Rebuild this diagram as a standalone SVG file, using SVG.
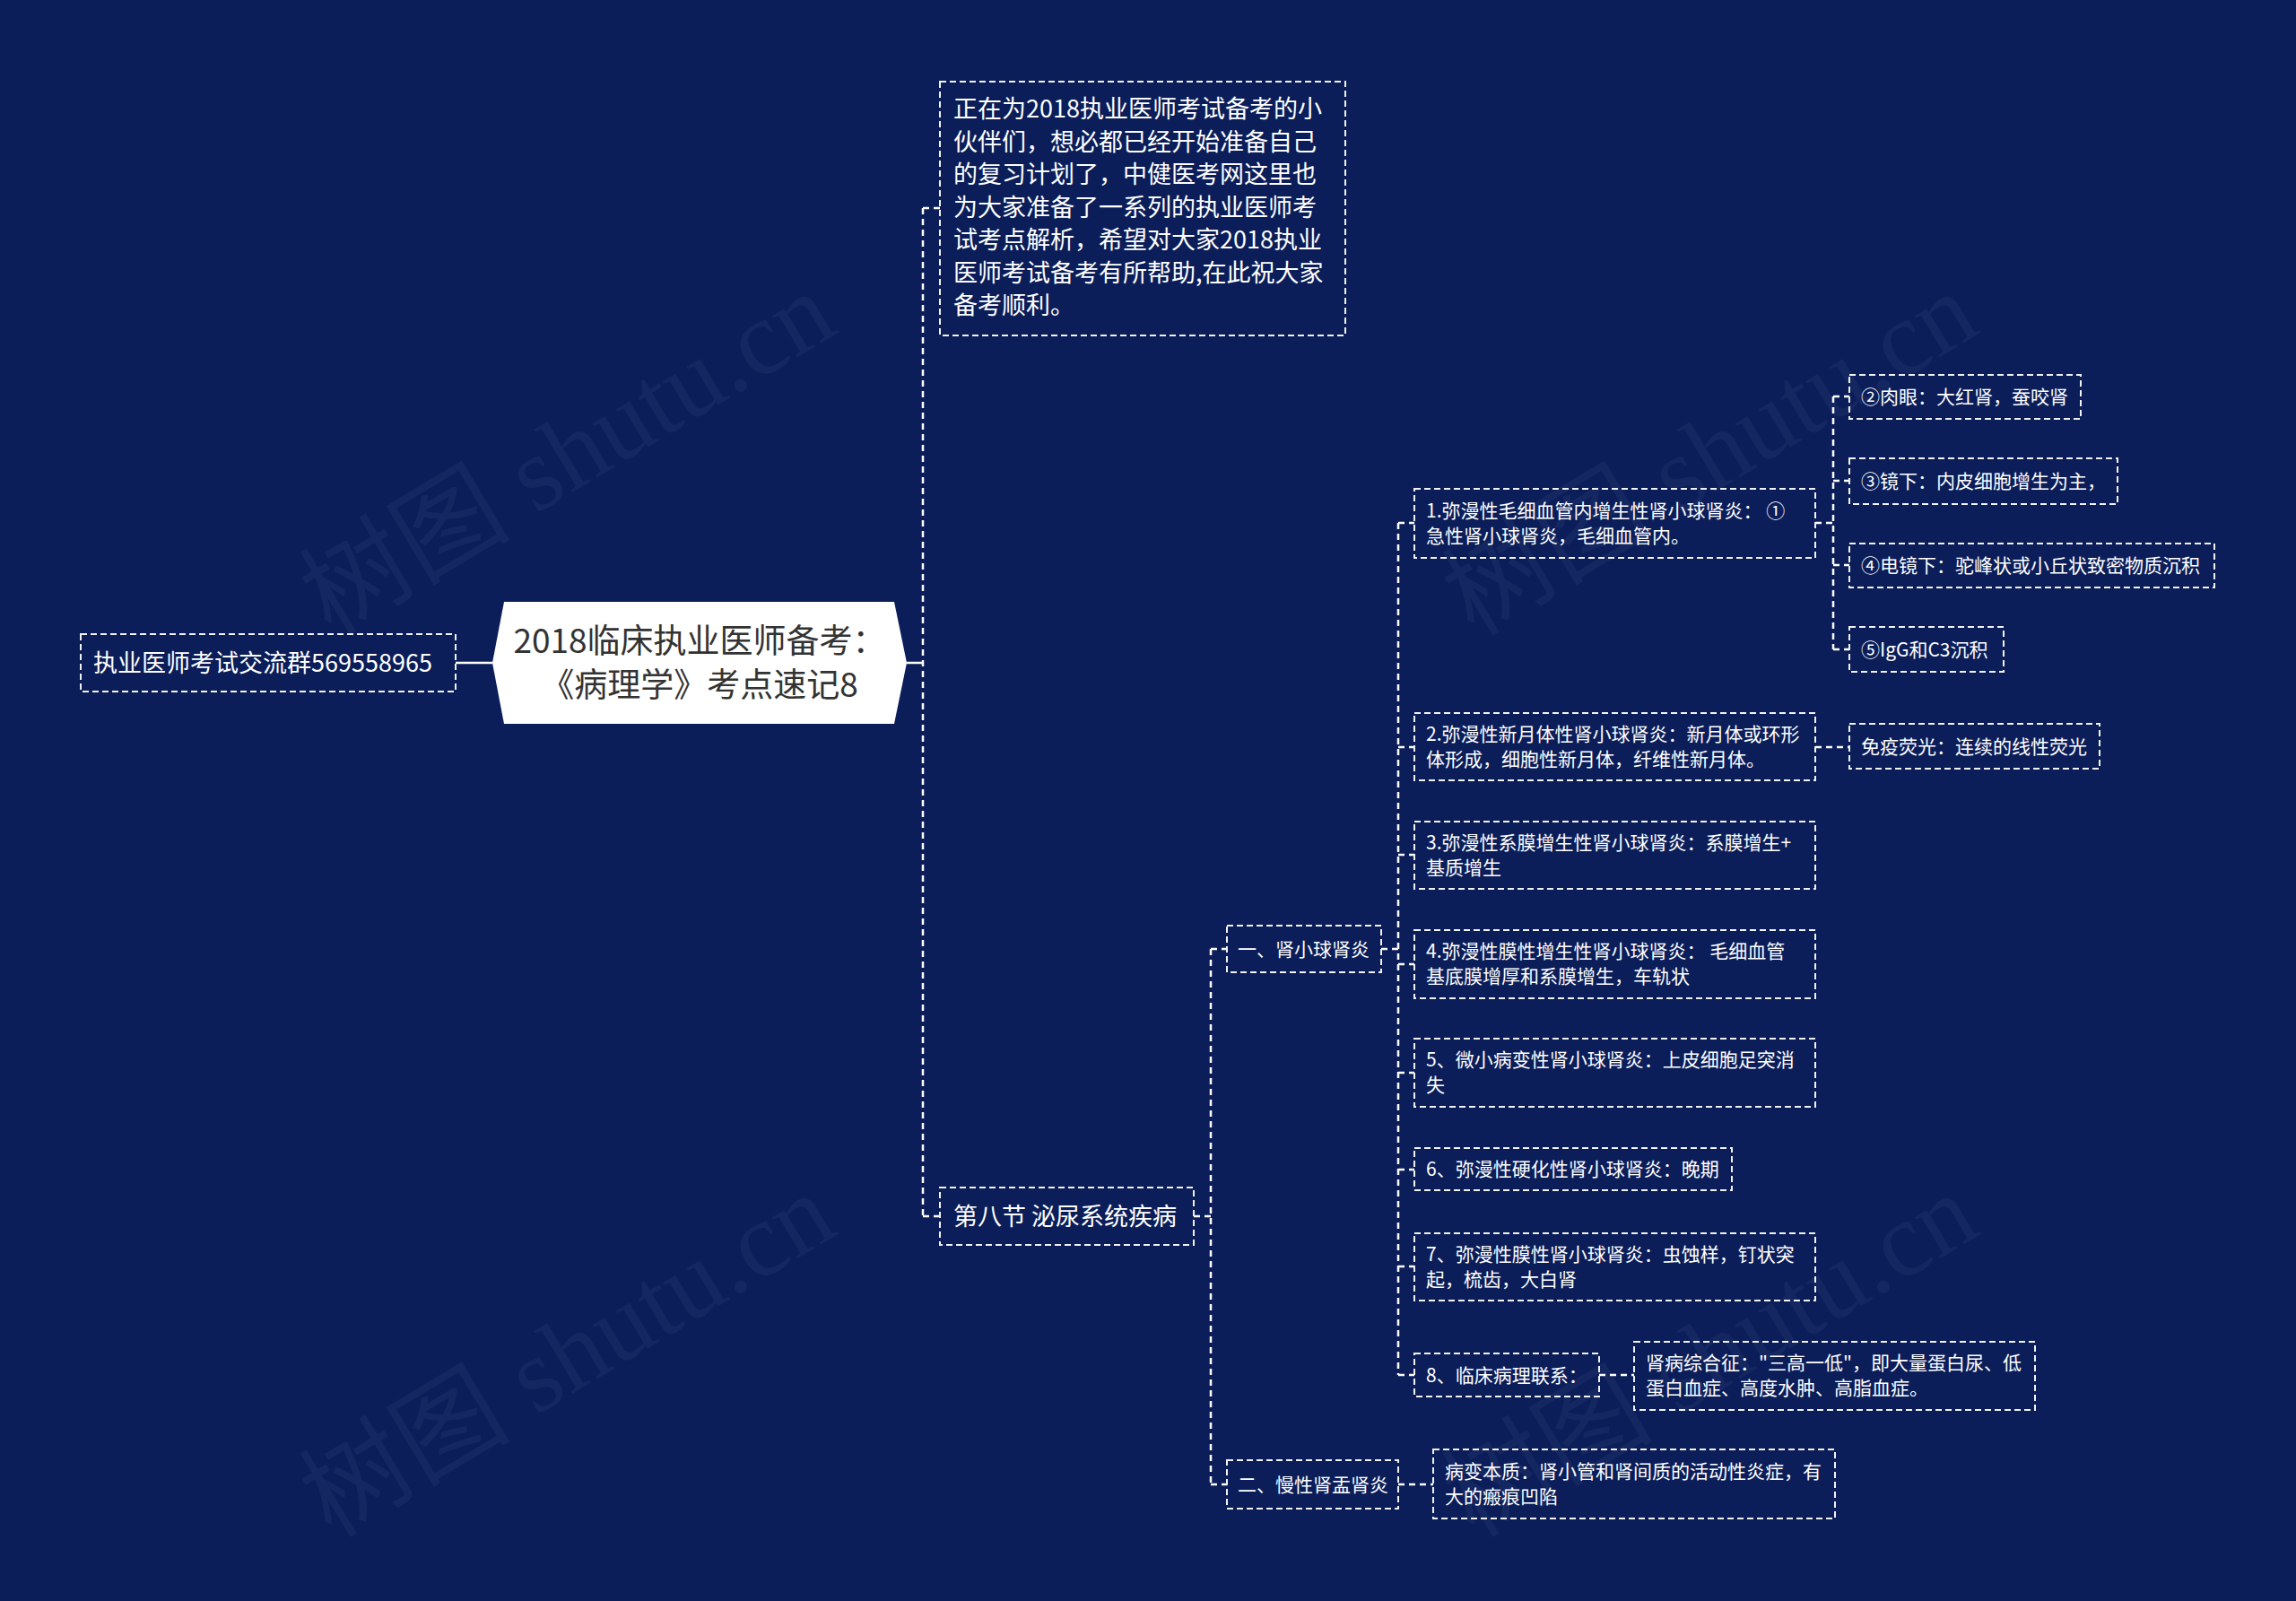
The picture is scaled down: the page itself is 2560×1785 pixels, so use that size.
<svg xmlns="http://www.w3.org/2000/svg" width="2560" height="1785" viewBox="0 0 2560 1785">
<style>
.bg{fill:#0b1e5a}
.box{fill:none;stroke:#f2f2f2;stroke-width:2;stroke-dasharray:7 4}
.t{font-family:"Noto Sans CJK SC","Noto Sans",sans-serif;fill:#ffffff}
.s21{font-size:21px}
.s27{font-size:27px}
.root{font-family:"Noto Sans CJK SC","Noto Sans",sans-serif;font-size:37px;fill:#333333}
.c{fill:none;stroke:#ffffff;stroke-width:2.5;stroke-dasharray:7 5}
.cs{fill:none;stroke:#ffffff;stroke-width:2.5}
.wm{font-family:"Liberation Serif","Noto Sans CJK SC",serif;font-size:118px;fill:#9aa3c0;fill-opacity:0.07}
</style>
<rect class="bg" x="0" y="0" width="2560" height="1785"/>
<g id="watermarks">
<text class="wm" text-anchor="middle" transform="translate(653,540) rotate(-31)">树图 shutu.cn</text>
<text class="wm" text-anchor="middle" transform="translate(653,1545) rotate(-31)">树图 shutu.cn</text>
<text class="wm" text-anchor="middle" transform="translate(1927,540) rotate(-31)">树图 shutu.cn</text>
<text class="wm" text-anchor="middle" transform="translate(1927,1545) rotate(-31)">树图 shutu.cn</text>
</g>
<g id="connectors">
<line class="cs" x1="508" y1="739" x2="549" y2="739"/>
<line class="cs" x1="1011" y1="739" x2="1029" y2="739"/>
<line class="c" x1="1029" y1="232" x2="1029" y2="1356"/>
<line class="c" x1="1029" y1="232" x2="1048" y2="232"/>
<line class="c" x1="1029" y1="1356" x2="1048" y2="1356"/>
<line class="c" x1="1331" y1="1356" x2="1350" y2="1356"/>
<line class="c" x1="1350" y1="1058" x2="1350" y2="1655"/>
<line class="c" x1="1350" y1="1058" x2="1368" y2="1058"/>
<line class="c" x1="1350" y1="1655" x2="1368" y2="1655"/>
<line class="c" x1="1540" y1="1058" x2="1559" y2="1058"/>
<line class="c" x1="1559" y1="583" x2="1559" y2="1533"/>
<line class="c" x1="1559" y1="583" x2="1577" y2="583"/>
<line class="c" x1="1559" y1="833" x2="1577" y2="833"/>
<line class="c" x1="1559" y1="953" x2="1577" y2="953"/>
<line class="c" x1="1559" y1="1075" x2="1577" y2="1075"/>
<line class="c" x1="1559" y1="1196" x2="1577" y2="1196"/>
<line class="c" x1="1559" y1="1304" x2="1577" y2="1304"/>
<line class="c" x1="1559" y1="1412" x2="1577" y2="1412"/>
<line class="c" x1="1559" y1="1533" x2="1577" y2="1533"/>
<line class="c" x1="2024" y1="583" x2="2044" y2="583"/>
<line class="c" x1="2044" y1="442" x2="2044" y2="724"/>
<line class="c" x1="2044" y1="442" x2="2062" y2="442"/>
<line class="c" x1="2044" y1="536" x2="2062" y2="536"/>
<line class="c" x1="2044" y1="630" x2="2062" y2="630"/>
<line class="c" x1="2044" y1="724" x2="2062" y2="724"/>
<line class="c" x1="2024" y1="833" x2="2062" y2="833"/>
<line class="c" x1="1783" y1="1533" x2="1822" y2="1533"/>
<line class="c" x1="1559" y1="1655" x2="1598" y2="1655"/>
</g>
<g id="root">
<polygon points="562,671 997,671 1011,739 997,807 562,807 549,739" fill="#ffffff"/>
<text class="root" x="780" y="728" text-anchor="middle">2018临床执业医师备考：</text>
<text class="root" x="780" y="777" text-anchor="middle">《病理学》考点速记8</text>
</g>
<g id="n-group">
<rect class="box" x="90" y="707" width="418" height="64"/>
<text class="t s27" x="104" y="749">执业医师考试交流群569558965</text>
</g>
<g id="n-intro">
<rect class="box" x="1048" y="91" width="452" height="283"/>
<text class="t s27" x="1063" y="131">正在为2018执业医师考试备考的小</text>
<text class="t s27" x="1063" y="168">伙伴们，想必都已经开始准备自己</text>
<text class="t s27" x="1063" y="204">的复习计划了，中健医考网这里也</text>
<text class="t s27" x="1063" y="241">为大家准备了一系列的执业医师考</text>
<text class="t s27" x="1063" y="277">试考点解析，希望对大家2018执业</text>
<text class="t s27" x="1063" y="314">医师考试备考有所帮助,在此祝大家</text>
<text class="t s27" x="1063" y="350">备考顺利。</text>
</g>
<g id="n-sec8">
<rect class="box" x="1048" y="1324" width="283" height="64"/>
<text class="t s27" x="1063" y="1366">第八节 泌尿系统疾病</text>
</g>
<g id="n-g1">
<rect class="box" x="1368" y="1032" width="172" height="52"/>
<text class="t s21" x="1380" y="1066">一、肾小球肾炎</text>
</g>
<g id="n-g2">
<rect class="box" x="1368" y="1628" width="191" height="54"/>
<text class="t s21" x="1380" y="1663">二、慢性肾盂肾炎</text>
</g>
<g id="n1">
<rect class="box" x="1577" y="545" width="447" height="77"/>
<text class="t s21" x="1590" y="577">1.弥漫性毛细血管内增生性肾小球肾炎： ①</text>
<text class="t s21" x="1590" y="605">急性肾小球肾炎，毛细血管内。</text>
</g>
<g id="n2">
<rect class="box" x="1577" y="795" width="447" height="75"/>
<text class="t s21" x="1590" y="826">2.弥漫性新月体性肾小球肾炎：新月体或环形</text>
<text class="t s21" x="1590" y="854">体形成，细胞性新月体，纤维性新月体。</text>
</g>
<g id="n3">
<rect class="box" x="1577" y="916" width="447" height="75"/>
<text class="t s21" x="1590" y="947">3.弥漫性系膜增生性肾小球肾炎：系膜增生+</text>
<text class="t s21" x="1590" y="975">基质增生</text>
</g>
<g id="n4">
<rect class="box" x="1577" y="1037" width="447" height="76"/>
<text class="t s21" x="1590" y="1068">4.弥漫性膜性增生性肾小球肾炎： 毛细血管</text>
<text class="t s21" x="1590" y="1096">基底膜增厚和系膜增生，车轨状</text>
</g>
<g id="n5">
<rect class="box" x="1577" y="1158" width="447" height="76"/>
<text class="t s21" x="1590" y="1189">5、微小病变性肾小球肾炎：上皮细胞足突消</text>
<text class="t s21" x="1590" y="1217">失</text>
</g>
<g id="n6">
<rect class="box" x="1577" y="1280" width="354" height="47"/>
<text class="t s21" x="1590" y="1311">6、弥漫性硬化性肾小球肾炎：晚期</text>
</g>
<g id="n7">
<rect class="box" x="1577" y="1375" width="447" height="75"/>
<text class="t s21" x="1590" y="1406">7、弥漫性膜性肾小球肾炎：虫蚀样，钉状突</text>
<text class="t s21" x="1590" y="1434">起，梳齿，大白肾</text>
</g>
<g id="n8">
<rect class="box" x="1577" y="1509" width="206" height="48"/>
<text class="t s21" x="1590" y="1541">8、临床病理联系：</text>
</g>
<g id="m1">
<rect class="box" x="2062" y="418" width="258" height="49"/>
<text class="t s21" x="2075" y="450">②肉眼：大红肾，蚕咬肾</text>
</g>
<g id="m2">
<rect class="box" x="2062" y="511" width="299" height="51"/>
<text class="t s21" x="2075" y="544">③镜下：内皮细胞增生为主，</text>
</g>
<g id="m3">
<rect class="box" x="2062" y="606" width="407" height="49"/>
<text class="t s21" x="2075" y="638">④电镜下：驼峰状或小丘状致密物质沉积</text>
</g>
<g id="m4">
<rect class="box" x="2062" y="699" width="172" height="50"/>
<text class="t s21" x="2075" y="732">⑤IgG和C3沉积</text>
</g>
<g id="n-imm">
<rect class="box" x="2062" y="807" width="279" height="50"/>
<text class="t s21" x="2075" y="840">免疫荧光：连续的线性荧光</text>
</g>
<g id="n-nep">
<rect class="box" x="1822" y="1496" width="447" height="76"/>
<text class="t s21" x="1835" y="1527">肾病综合征：&quot;三高一低&quot;，即大量蛋白尿、低</text>
<text class="t s21" x="1835" y="1555">蛋白血症、高度水肿、高脂血症。</text>
</g>
<g id="n-pye">
<rect class="box" x="1598" y="1616" width="448" height="77"/>
<text class="t s21" x="1611" y="1648">病变本质：肾小管和肾间质的活动性炎症，有</text>
<text class="t s21" x="1611" y="1676">大的瘢痕凹陷</text>
</g>
</svg>
